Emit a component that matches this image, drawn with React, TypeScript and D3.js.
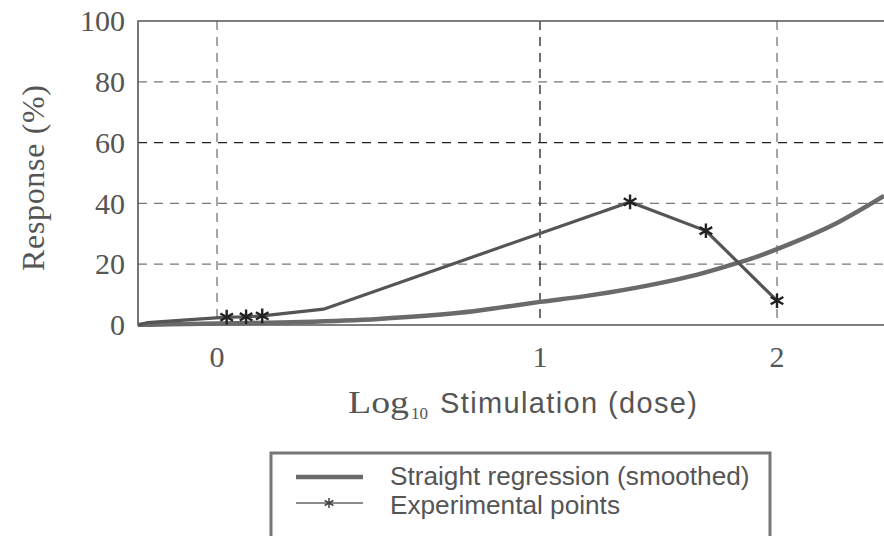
import React from 'react';
import * as d3 from 'd3';

// values
const yTicks = [0, 20, 40, 60, 80, 100];
const xTicks = [0, 1, 2];

const regX = [-0.245, 0, 0.26, 0.5, 0.75, 0.88, 1, 1.19, 1.29, 1.5, 1.66, 1.84, 1.92, 2.05, 2.22, 2.45];
const regY = [0, 0.5, 1.0, 2.0, 4.0, 5.8, 7.6, 9.5, 10.7, 13.7, 16.5, 20.6, 22.6, 26.5, 32.3, 42.5];

const expX = [-0.245, -0.215, 0.03, 0.09, 0.14, 0.33, 1.38, 1.7, 2.0];
const expY = [0, 0.8, 2.6, 2.7, 3.0, 5.2, 40.5, 31, 8];
const expMarked = [false, false, true, true, true, false, true, true, true];

const legendLabels = ['Straight regression (smoothed)', 'Experimental points'];

const W = 884;
const H = 536;
const left = 138;
const top = 21;
const bottom = 325;
const right = 884;

const serif = '"Liberation Serif", "Times New Roman", serif';
const sans = '"Liberation Sans", Arial, sans-serif';

export default function App() {
  // the printed axis is not evenly spaced, so use a piecewise scale
  const x = d3.scaleLinear().domain([-0.245, 0, 1, 2, 2.45]).range([left, 217, 540, 777, right]);
  const y = d3.scaleLinear().domain([0, 100]).range([bottom, top]);

  const regLine = d3
    .line<number>()
    .x((d, i) => x(regX[i]))
    .y((d) => y(d))
    .curve(d3.curveMonotoneX);

  const expLine = d3
    .line<number>()
    .x((d, i) => x(expX[i]))
    .y((d) => y(d));

  const star = d3.symbol().type(d3.symbolAsterisk).size(150);
  const legendStar = d3.symbol().type(d3.symbolAsterisk).size(70);

  return (
    <svg
      width={W}
      height={H}
      style={{ position: 'absolute', left: 0, top: 0, background: '#fff' }}
    >
      <defs>
        <clipPath id="plot">
          <rect x={left} y={top - 2} width={right - left} height={bottom - top + 4} />
        </clipPath>
      </defs>

      {/* grid */}
      {yTicks
        .filter((t) => t > 0 && t < 100)
        .map((t) => (
          <line
            key={'gy' + t}
            x1={left}
            x2={right}
            y1={y(t)}
            y2={y(t)}
            stroke={t === 60 ? '#222' : '#777'}
            strokeWidth={1.3}
            strokeDasharray="9,7"
          />
        ))}
      {xTicks.map((t) => (
        <line
          key={'gx' + t}
          x1={x(t)}
          x2={x(t)}
          y1={top}
          y2={bottom}
          stroke={t === 1 ? '#222' : '#777'}
          strokeWidth={1.3}
          strokeDasharray="9,7"
        />
      ))}

      {/* frame */}
      <path
        d={`M${right},${top}H${left}V${bottom}H${right}`}
        fill="none"
        stroke="#555"
        strokeWidth={1.6}
      />

      <g clipPath="url(#plot)">
        <path d={regLine(regY) || ''} fill="none" stroke="#6a6a6a" strokeWidth={4.5} />
        <path d={expLine(expY) || ''} fill="none" stroke="#555" strokeWidth={3.2} />
        {expY.map((v, i) =>
          expMarked[i] ? (
            <path
              key={'s' + i}
              d={star() || ''}
              transform={`translate(${x(expX[i])},${y(v)})`}
              fill="none"
              stroke="#222"
              strokeWidth={2.4}
            />
          ) : null
        )}
      </g>

      {/* y tick labels */}
      {yTicks.map((t) => (
        <text
          key={'ty' + t}
          x={125}
          y={y(t)}
          dy="0.34em"
          textAnchor="end"
          fontFamily={serif}
          fontSize={30}
          fill="#555"
        >
          {t}
        </text>
      ))}

      {/* x tick labels */}
      {xTicks.map((t) => (
        <text
          key={'tx' + t}
          x={x(t)}
          y={367}
          textAnchor="middle"
          fontFamily={serif}
          fontSize={30}
          fill="#555"
        >
          {t}
        </text>
      ))}

      {/* y title */}
      <text
        transform="translate(44,178) rotate(-90)"
        textAnchor="middle"
        fontFamily={serif}
        fontSize={32}
        fill="#555"
        textLength={186}
      >
        Response  (%)
      </text>

      {/* x title */}
      <text
        x={348}
        y={413}
        fontFamily={serif}
        fontSize={31}
        fill="#555"
        textLength={61}
        lengthAdjust="spacingAndGlyphs"
      >
        Log
      </text>
      <text x={411} y={419} fontFamily={serif} fontSize={17} fill="#555">
        10
      </text>
      <text x={440} y={413} fontFamily={sans} fontSize={29} fill="#555" textLength={257}>
        Stimulation (dose)
      </text>

      {/* legend */}
      <rect x={271} y={453} width={499} height={100} fill="#fff" stroke="#777" strokeWidth={3} />
      <line x1={296} x2={363} y1={477} y2={477} stroke="#6a6a6a" strokeWidth={4.5} />
      <line x1={296} x2={363} y1={503} y2={503} stroke="#666" strokeWidth={1.3} />
      <path
        d={legendStar() || ''}
        transform="translate(329,503)"
        fill="none"
        stroke="#444"
        strokeWidth={1.5}
      />
      {legendLabels.map((s, i) => (
        <text
          key={s}
          x={390}
          y={485 + i * 29}
          fontFamily={sans}
          fontSize={26.2}
          fill="#555"
        >
          {s}
        </text>
      ))}
    </svg>
  );
}
